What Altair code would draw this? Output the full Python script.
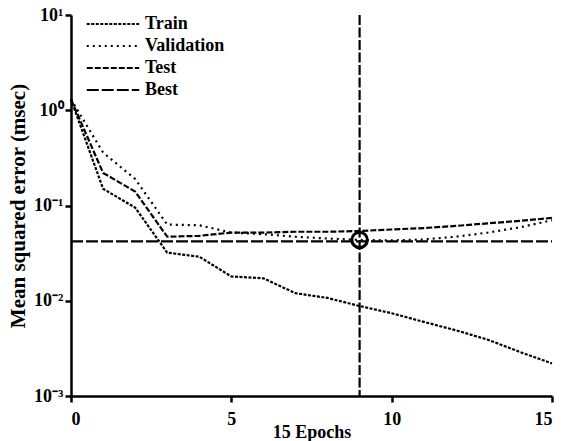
import altair as alt
import pandas as pd

epochs = list(range(16))
train = [1.3, 0.15, 0.095, 0.032, 0.029, 0.018, 0.0172, 0.012, 0.0107, 0.0088,
         0.0074, 0.006, 0.0049, 0.0039, 0.0029, 0.0022]
validation = [1.3, 0.36, 0.19, 0.063, 0.062, 0.052, 0.05, 0.047, 0.045, 0.0435,
              0.043, 0.044, 0.047, 0.052, 0.059, 0.07]
test = [1.3, 0.22, 0.14, 0.047, 0.048, 0.052, 0.052, 0.053, 0.053, 0.054,
        0.056, 0.058, 0.061, 0.065, 0.069, 0.074]
best_value = 0.042
best_epoch = 9
best_point = 0.0435

series_names = ["Train", "Validation", "Test", "Best"]
dashes = [[3, 1.5], [2, 4], [6, 2], [12, 3]]

rows = []
for name, vals in [("Train", train), ("Validation", validation), ("Test", test)]:
    for e, v in zip(epochs, vals):
        rows.append({"epoch": e, "mse": v, "series": name})
for e in [epochs[0], epochs[-1]]:
    rows.append({"epoch": e, "mse": best_value, "series": "Best"})
df = pd.DataFrame(rows)

FONT = "Liberation Serif"

x_enc = alt.X("epoch:Q", scale=alt.Scale(domain=[0, 15], nice=False),
              axis=alt.Axis(values=[0, 5, 10, 15], title="15 Epochs", grid=False))
y_enc = alt.Y("mse:Q", scale=alt.Scale(type="log", domain=[0.001, 10], nice=False),
              axis=alt.Axis(values=[0.001, 0.01, 0.1, 1, 10], grid=False,
                            title="Mean squared error (msec)", titleFontSize=21,
                            labelExpr="datum.value >= 10 ? '10¹' : datum.value >= 1 ? '10⁰' : datum.value >= 0.1 ? '10⁻¹' : datum.value >= 0.01 ? '10⁻²' : '10⁻³'"))

lines = alt.Chart(df).mark_line(color="black", strokeWidth=2.2).encode(
    x=x_enc, y=y_enc,
    strokeDash=alt.StrokeDash("series:N",
                              scale=alt.Scale(domain=series_names, range=dashes),
                              sort=series_names,
                              legend=alt.Legend(title=None, orient="none",
                                                legendX=33, legendY=0,
                                                symbolType="M-5,0H5", symbolSize=110,
                                                symbolStrokeWidth=2.2, symbolStrokeColor="black",
                                                labelFont=FONT, labelFontSize=18,
                                                labelFontWeight="bold", labelColor="black",
                                                rowPadding=4, labelOffset=23)),
    detail="series:N",
)

vline = alt.Chart(pd.DataFrame({"epoch": [best_epoch]})).mark_rule(
    color="black", strokeWidth=2.2, strokeDash=[10, 2.5]).encode(x="epoch:Q")

circle = alt.Chart(pd.DataFrame({"epoch": [best_epoch], "mse": [best_point]})).mark_point(
    shape="circle", size=240, filled=False, color="black", strokeWidth=3, opacity=1).encode(
    x="epoch:Q", y="mse:Q")

chart = alt.layer(lines, vline, circle).properties(
    width=481, height=381,
    autosize=alt.AutoSizeParams(type="none"),
    padding={"left": 71, "top": 15, "right": 9, "bottom": 45},
).configure_view(stroke=None).configure_axis(
    domainColor="black", domainWidth=2.5, tickColor="black", tickWidth=2.5, tickSize=6,
    labelFont=FONT, labelFontSize=18, labelFontWeight="bold", labelColor="black",
    titleFont=FONT, titleFontSize=18, titleFontWeight="bold", titleColor="black",
).configure_axisX(labelPadding=8, titlePadding=-5).configure_axisY(labelPadding=2, titlePadding=5)

chart.save("out.html", embed_options={"renderer": "svg", "actions": False})
